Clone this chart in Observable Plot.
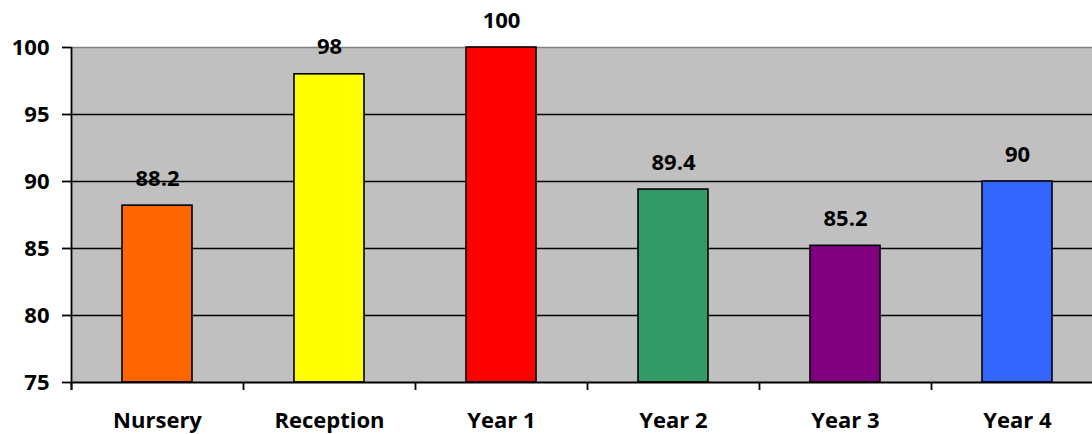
<!DOCTYPE html>
<html>
<head>
<meta charset="utf-8">
<script src="https://cdn.jsdelivr.net/npm/d3@7"></script>
<script src="https://cdn.jsdelivr.net/npm/@observablehq/plot@0.6"></script>
<style>
  html, body { margin: 0; padding: 0; background: #fff; }
  svg { font-family: "Open Sans", sans-serif; }
</style>
</head>
<body>
<div id="chart"></div>
<script>
const categories = ["Nursery", "Reception", "Year 1", "Year 2", "Year 3", "Year 4"];
const values = [88.2, 98, 100, 89.4, 85.2, 90];
const colors = ["#FF6600", "#FFFF00", "#FF0000", "#339966", "#800080", "#3366FF"];
const yTicks = [75, 80, 85, 90, 95, 100];
const gridTicks = [80, 85, 90, 95];

const data = categories.map((c, i) => ({category: c, value: values[i], color: colors[i]}));

const FS = 22;

const chart = Plot.plot({
  width: 1092,
  height: 434,
  marginLeft: 71,
  marginTop: 47,
  marginBottom: 52,
  marginRight: 0,
  style: {fontFamily: "'Open Sans', sans-serif", fontSize: FS + "px", fontWeight: "bold", color: "#000", background: "#fff"},
  x: {domain: categories, range: [71, 1103], paddingInner: 0.593, paddingOuter: 0.2965, label: null},
  y: {domain: [75, 100], label: null},
  marks: [
    Plot.frame({fill: "#C0C0C0", stroke: null}),
    Plot.ruleY(gridTicks, {stroke: "#000", strokeWidth: 1.6}),
    Plot.ruleY([100], {stroke: "#808080", strokeWidth: 1.6}),
    Plot.barY(data, {x: "category", y1: 75, y2: "value", fill: "color", stroke: "#000", strokeWidth: 1.6}),
    Plot.ruleY([75], {stroke: "#000", strokeWidth: 1.8}),
    Plot.ruleX([categories[0]], {x: d => d, dx: -86, y1: 74.4, y2: 100, stroke: "#000", strokeWidth: 1.8, clip: false}),
    Plot.ruleX(categories, {x: d => d, dx: -86, y1: 74.4, y2: 75, stroke: "#000", strokeWidth: 1.8, clip: false}),
    Plot.text(data, {x: "category", y: "value", text: d => String(d.value), dy: -27, fontSize: FS, fontWeight: "bold", fill: "#000", textAnchor: "middle", lineAnchor: "middle"}),
    Plot.axisY(yTicks, {tickSize: 9, tickPadding: 13, stroke: "#000", strokeWidth: 1.8, fontSize: FS, fontWeight: "bold", label: null}),
    Plot.axisX({tickSize: 0, tickPadding: 30, fontSize: FS, fontWeight: "bold", label: null})
  ]
});
document.getElementById("chart").appendChild(chart);
</script>
</body>
</html>
